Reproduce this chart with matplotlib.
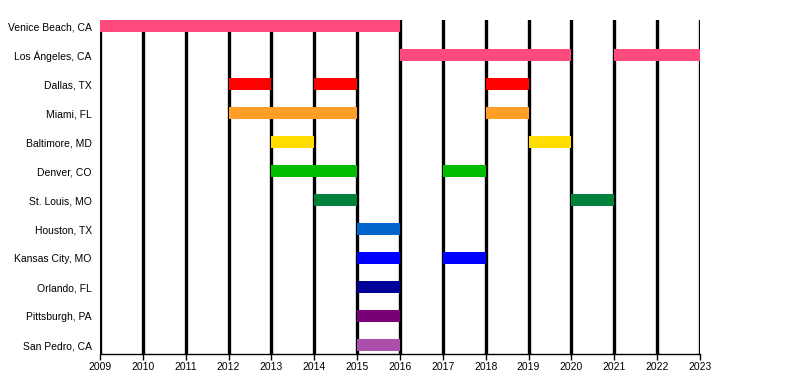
import matplotlib
matplotlib.use("Agg")
import matplotlib.pyplot as plt

cities = ["Venice Beach, CA", "Los Ángeles, CA", "Dallas, TX", "Miami, FL",
          "Baltimore, MD", "Denver, CO", "St. Louis, MO", "Houston, TX",
          "Kansas City, MO", "Orlando, FL", "Pittsburgh, PA", "San Pedro, CA"]

# (start year, end year) spans for each city
spans = [
    [(2009, 2016)],
    [(2016, 2020), (2021, 2023)],
    [(2012, 2013), (2014, 2015), (2018, 2019)],
    [(2012, 2015), (2018, 2019)],
    [(2013, 2014), (2019, 2020)],
    [(2013, 2015), (2017, 2018)],
    [(2014, 2015), (2020, 2021)],
    [(2015, 2016)],
    [(2015, 2016), (2017, 2018)],
    [(2015, 2016)],
    [(2015, 2016)],
    [(2015, 2016)],
]

colors = ["#FF4A7E", "#FF4A7E", "#FF0000", "#FF9F28", "#FFDD00", "#00BB00",
          "#00803A", "#0066CC", "#0000FF", "#000099", "#770077", "#AA50AA"]

years = list(range(2009, 2024))

plt.rcParams['font.family'] = ['Liberation Sans', 'DejaVu Sans']

fig = plt.figure(figsize=(8, 3.8), dpi=100)
ax = fig.add_axes([0.125, 0.0684, 0.75, 0.8786])

for y in years:
    ax.axvline(y, color="black", lw=2.4, zorder=1)

for i, (city, s) in enumerate(zip(cities, spans)):
    for a, b in s:
        ax.barh(i, b - a, left=a, height=0.4, color=colors[i], zorder=2)

ax.set_xlim(2009, 2023)
ax.set_ylim(11.31, -0.21)
ax.set_xticks(years)
ax.set_xticklabels([str(y) for y in years], fontsize=7.5)
ax.set_yticks(range(len(cities)))
ax.set_yticklabels(cities, fontsize=7.5)
ax.tick_params(axis="y", length=0, pad=6)
ax.tick_params(axis="x", length=4, width=1, pad=1.5)
for side in ["top", "right", "left"]:
    ax.spines[side].set_visible(False)
ax.spines["bottom"].set_linewidth(1)

fig.savefig("out.png", dpi=100)
